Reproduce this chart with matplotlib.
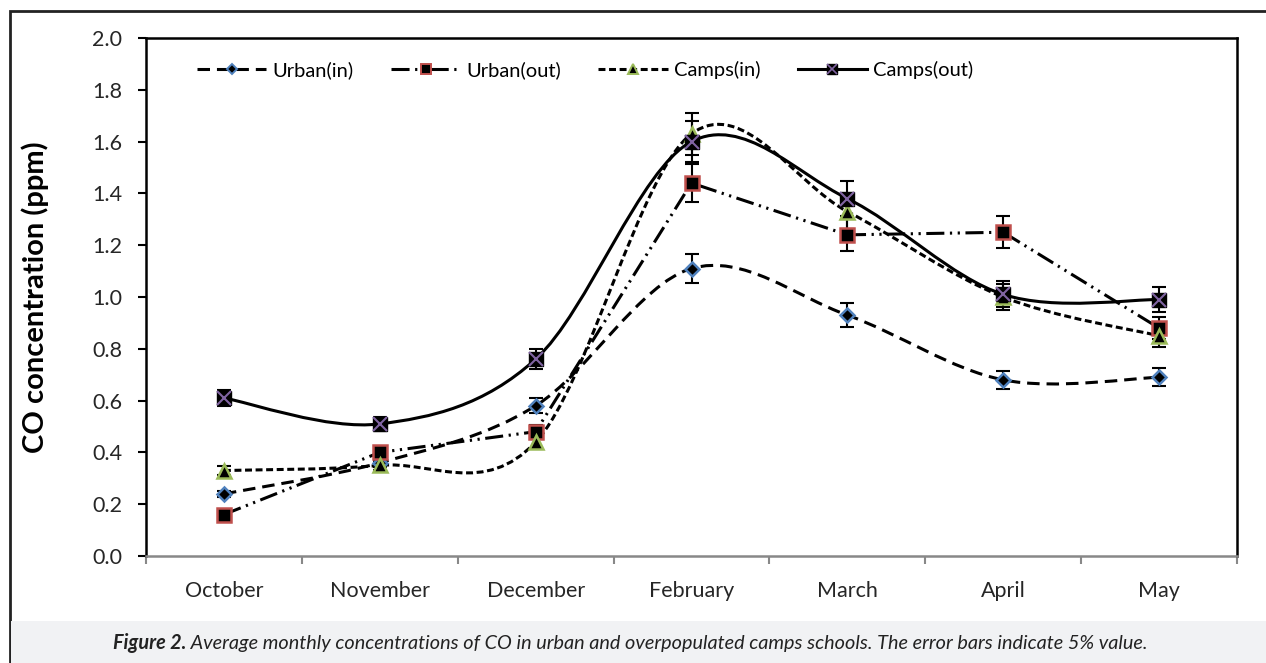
import matplotlib
matplotlib.use('Agg')
import matplotlib.pyplot as plt
import numpy as np
from matplotlib.path import Path
from matplotlib.patches import PathPatch, Rectangle
from matplotlib.lines import Line2D
from matplotlib.legend_handler import HandlerTuple

plt.rcParams['font.family'] = ['Lato', 'DejaVu Sans']
plt.rcParams['lines.scale_dashes'] = False

#data (ppm)
months = ['October', 'November', 'December', 'February', 'March', 'April', 'May']
urban_in = [0.24, 0.36, 0.58, 1.11, 0.93, 0.68, 0.69]
urban_out = [0.16, 0.40, 0.48, 1.44, 1.24, 1.25, 0.88]
camps_in = [0.33, 0.35, 0.44, 1.63, 1.33, 1.00, 0.85]
camps_out = [0.61, 0.51, 0.76, 1.60, 1.38, 1.01, 0.99]
err_frac = 0.05

caption_bold = 'Figure 2.'
caption_rest = ' Average monthly concentrations of CO in urban and overpopulated camps schools. The error bars indicate 5% value.'

def smooth_path(x, y):
    #Excel-like smoothed line: cubic bezier through the points (catmull-rom control points)
    p = np.column_stack([x, y]).astype(float)
    ext = np.vstack([p[0], p, p[-1]])
    verts = [p[0]]
    codes = [Path.MOVETO]
    for i in range(len(p) - 1):
        c1 = ext[i+1] + (ext[i+2] - ext[i]) / 6.0
        c2 = ext[i+2] - (ext[i+3] - ext[i+1]) / 6.0
        verts += [c1, c2, p[i+1]]
        codes += [Path.CURVE4] * 3
    return Path(verts, codes)

W, H = 1266, 663
fig = plt.figure(figsize=(W/100, H/100), dpi=100)
ax = fig.add_axes([146/W, 1 - 556/H, (1237 - 146)/W, (556 - 38)/H])

x = np.arange(len(months))
lw = 2.2
#name, values, dash, marker, edge colour, marker size, smoothed?
styles = [
    ('Urban(in)', urban_in, (0, (9, 5)), 'D', '#4f81bd', 7.5, True),
    ('Urban(out)', urban_out, (0, (13, 4, 1.6, 4, 1.6, 4)), 's', '#c0504d', 9.5, False),
    ('Camps(in)', camps_in, (0, (5, 2.6)), '^', '#9bbb59', 9.5, True),
    ('Camps(out)', camps_out, '-', 's', '#8064a2', 9.5, True),
]

handles = []
for name, vals, ls, mk, col, ms, smooth in styles:
    vals = np.array(vals)
    if smooth:
        ax.add_patch(PathPatch(smooth_path(x, vals), fill=False, edgecolor='black',
                               lw=lw, linestyle=ls, capstyle='butt', zorder=3))
    else:
        ax.plot(x, vals, color='black', lw=lw, ls=ls, dash_capstyle='butt', zorder=3)
    ax.errorbar(x, vals, yerr=err_frac * vals, fmt='none', ecolor='black',
                elinewidth=1.5, capsize=5, capthick=1.5, zorder=4)
    if name == 'Camps(out)':
        ax.plot(x, vals, ls='none', marker='s', ms=ms, mfc='black', mec='black', zorder=5)
        ax.plot(x, vals, ls='none', marker='x', ms=ms, mec=col, mew=1.5, zorder=6)
        h = (Line2D([], [], color='black', lw=lw, ls=ls, marker='s', ms=7, mfc='black', mec='black'),
             Line2D([], [], ls='none', marker='x', ms=7, mec=col, mew=1.2))
    else:
        ax.plot(x, vals, ls='none', marker=mk, ms=ms, mfc='black', mec=col, mew=1.8, zorder=5)
        h = Line2D([], [], color='black', lw=lw, ls=ls, marker=mk, ms=7.5 if mk != 'D' else 5.5,
                   mfc='black', mec=col, mew=1.4)
    handles.append(h)

ax.set_xlim(-0.5, len(months) - 0.5)
ax.set_ylim(0, 2.0)
yt = np.arange(0, 2.01, 0.2)
ax.set_yticks(yt)
ax.set_yticklabels(['%.1f' % v for v in yt], fontsize=15.5, color='#262626')
ax.tick_params(axis='y', direction='out', length=6, width=1.5, color='black', pad=11)

ax.set_xticks(np.arange(-0.5, len(months), 1.0))
ax.set_xticklabels([])
ax.set_xticks(x, minor=True)
ax.set_xticklabels(months, minor=True, fontsize=15.5, color='#262626')
ax.tick_params(axis='x', which='major', direction='out', length=6, width=1.5, color='#888888')
ax.tick_params(axis='x', which='minor', length=0, pad=18)

for s in ['top', 'right', 'left']:
    ax.spines[s].set_linewidth(1.8)
    ax.spines[s].set_color('black')
ax.spines['bottom'].set_linewidth(1.8)
ax.spines['bottom'].set_color('#888888')

ax.set_ylabel('CO concentration (ppm)', fontsize=21, fontweight='bold')
ax.yaxis.set_label_coords(-(146 - 49) / 1091, 0.5)

labels = [s[0] for s in styles]
ax.legend(handles, labels, loc='center left', bbox_to_anchor=((197 - 146) / 1091, (556 - 70) / 518),
          ncol=4, frameon=False, fontsize=14.5, handlelength=3.45, handletextpad=0.3,
          columnspacing=1.85, borderpad=0, borderaxespad=0, numpoints=1,
          handler_map={tuple: HandlerTuple(ndivide=1, pad=0)})

#outer frame and caption band
fig.patches.append(Rectangle((10/W, -0.1), 1.2, (H - 11)/H + 0.1, transform=fig.transFigure,
                             fill=False, edgecolor='#222222', lw=2.0))
fig.patches.append(Rectangle((11/W, 0), 1.0, 42/H, transform=fig.transFigure,
                             facecolor='#f1f2f4', edgecolor='none'))

cap_font = dict(fontsize=14.3, fontstyle='italic', va='center', ha='left', color='#222222')
t1 = fig.text(0, 20/H, caption_bold, fontweight='bold', **cap_font)
t2 = fig.text(0, 20/H, caption_rest, **cap_font)
fig.canvas.draw()
r = fig.canvas.get_renderer()
w1 = t1.get_window_extent(r).width
w2 = t2.get_window_extent(r).width
x0 = 630 - (w1 + w2) / 2
t1.set_x(x0 / W)
t2.set_x((x0 + w1) / W)

fig.savefig('out.png', dpi=100)
